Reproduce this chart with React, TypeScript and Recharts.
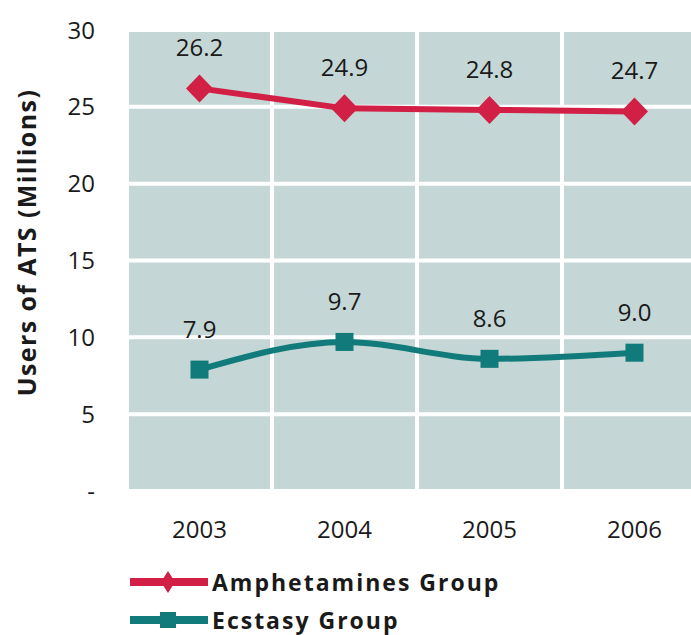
import React from "react";
import {
  LineChart,
  Line,
  XAxis,
  YAxis,
  CartesianGrid,
  Legend,
  LabelList,
} from "recharts";

const years = ["2003", "2004", "2005", "2006"];
const amphetamines = [26.2, 24.9, 24.8, 24.7];
const ecstasy = [7.9, 9.7, 8.6, 9.0];
const yTicks = [0, 5, 10, 15, 20, 25, 30];
// band edges between the years, for the white vertical grid lines
const bandEdges = [-0.5, 0.5, 1.5, 2.5, 3.5];

const RED = "#d21f45";
const TEAL = "#117b7b";
const PANEL = "#c4d6d5";
const FONT = "'Open Sans', 'DejaVu Sans', sans-serif";

const data = years.map((year, i) => ({
  idx: i,
  year,
  amphetamines: amphetamines[i],
  ecstasy: ecstasy[i],
}));

const Diamond = (props: any) => {
  const { cx, cy } = props;
  if (cx == null || cy == null) return null;
  return (
    <polygon
      points={`${cx},${cy - 14} ${cx + 13.5},${cy} ${cx},${cy + 14} ${cx - 13.5},${cy}`}
      fill={RED}
    />
  );
};

const Square = (props: any) => {
  const { cx, cy } = props;
  if (cx == null || cy == null) return null;
  return <rect x={cx - 9} y={cy - 9} width={18} height={18} fill={TEAL} />;
};

const LegendBox = () => (
  <div style={{ fontFamily: FONT, position: "relative", height: 72 }}>
    {[
      { name: "Amphetamines Group", color: RED, mark: "diamond" },
      { name: "Ecstasy Group", color: TEAL, mark: "square" },
    ].map((item, i) => (
      <div
        key={item.name}
        style={{
          position: "absolute",
          left: 130,
          top: i * 38,
          height: 38,
          display: "flex",
          alignItems: "center",
        }}
      >
        <svg width={80} height={30}>
          <rect x={0} y={11} width={78} height={8} fill={item.color} />
          {item.mark === "diamond" ? (
            <polygon points="38,4 45,15 38,26 31,15" fill={item.color} />
          ) : (
            <rect x={30} y={7} width={16} height={16} fill={item.color} />
          )}
        </svg>
        <span
          style={{
            fontWeight: 700,
            fontSize: 23,
            letterSpacing: 2,
            color: "#1a1a1a",
            marginLeft: 2,
          }}
        >
          {item.name}
        </span>
      </div>
    ))}
  </div>
);

const YLabel = (props: any) => {
  const vb = props.viewBox || { x: 0, y: 30, width: 127, height: 461 };
  const x = vb.x + 26;
  const y = vb.y + vb.height / 2 - 18;
  return (
    <text
      x={x}
      y={y}
      transform={`rotate(-90, ${x}, ${y})`}
      textAnchor="middle"
      dominantBaseline="central"
      fontFamily={FONT}
      fontWeight={700}
      fontSize={25}
      letterSpacing={1.4}
      fill="#1a1a1a"
    >
      Users of ATS (Millions)
    </text>
  );
};

export default function App() {
  return (
    <div style={{ width: 691, height: 635, overflow: "hidden", background: "#fff" }}>
      <style>{`body{margin:0}`}</style>
      <LineChart
        width={707}
        height={635}
        data={data}
        margin={{ top: 30, right: 0, bottom: 0, left: 0 }}
        style={{ fontFamily: FONT }}
      >
        <CartesianGrid
          fill={PANEL}
          stroke="#ffffff"
          strokeWidth={4}
          verticalCoordinatesGenerator={({ xAxis, offset }: any) =>
            bandEdges.map((v) =>
              xAxis && typeof xAxis.scale === "function"
                ? xAxis.scale(v)
                : offset.left + (offset.width * (v + 0.5)) / years.length
            )
          }
        />
        <XAxis
          dataKey="idx"
          type="number"
          domain={[-0.5, 3.5]}
          ticks={[0, 1, 2, 3]}
          tickFormatter={(v: number) => years[v]}
          axisLine={false}
          tickLine={false}
          tickSize={0}
          tickMargin={30}
          height={72}
          tick={{ fill: "#1a1a1a", fontSize: 24 }}
        />
        <YAxis
          type="number"
          domain={[0, 30]}
          ticks={yTicks}
          tickFormatter={(v: number) => (v === 0 ? "-" : String(v))}
          axisLine={false}
          tickLine={false}
          tickSize={0}
          tickMargin={32}
          width={127}
          tick={{ fill: "#1a1a1a", fontSize: 24 }}
          label={<YLabel />}
        />
        <Legend
          verticalAlign="bottom"
          height={72}
          wrapperStyle={{ left: 0, bottom: 0, width: 691 }}
          content={<LegendBox />}
        />
        <Line
          type="linear"
          dataKey="amphetamines"
          name="Amphetamines Group"
          stroke={RED}
          strokeWidth={6}
          dot={<Diamond />}
          activeDot={false}
          isAnimationActive={false}
        >
          <LabelList
            dataKey="amphetamines"
            position="top"
            offset={32}
            formatter={(v: number) => v.toFixed(1)}
            style={{ fill: "#1a1a1a", fontSize: 24, fontFamily: FONT }}
          />
        </Line>
        <Line
          type="monotone"
          dataKey="ecstasy"
          name="Ecstasy Group"
          stroke={TEAL}
          strokeWidth={6}
          dot={<Square />}
          activeDot={false}
          isAnimationActive={false}
        >
          <LabelList
            dataKey="ecstasy"
            position="top"
            offset={32}
            formatter={(v: number) => v.toFixed(1)}
            style={{ fill: "#1a1a1a", fontSize: 24, fontFamily: FONT }}
          />
        </Line>
      </LineChart>
    </div>
  );
}
